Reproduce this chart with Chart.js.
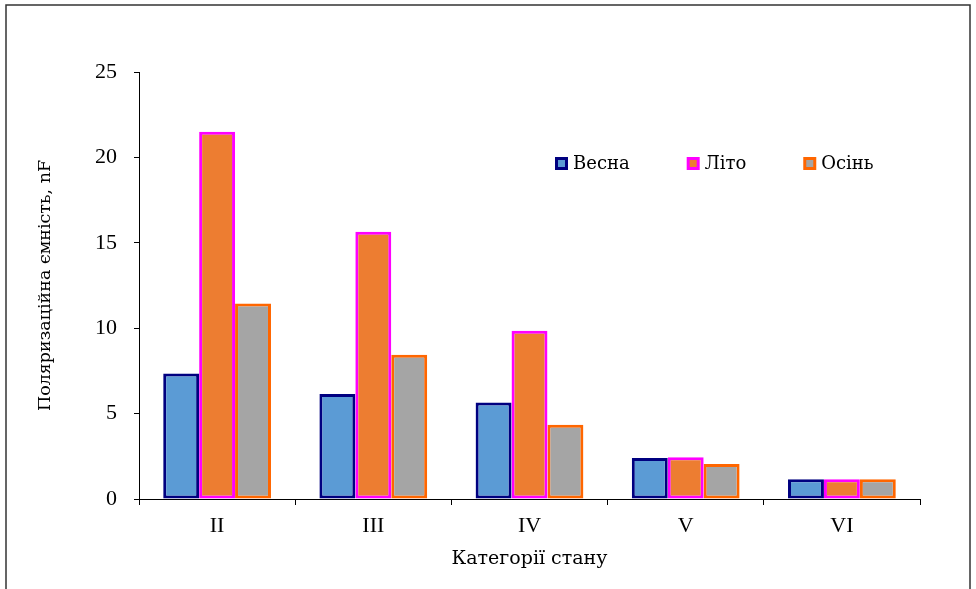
<!DOCTYPE html>
<html lang="uk">
<head>
    <meta charset="UTF-8">
    <title>Поляризаційна ємність</title>
    <script src="https://cdn.jsdelivr.net/npm/chart.js"></script>
    <style>
        body { margin: 0; background: #fff; }
    </style>
</head>
<body>
    <canvas id="grafico" width="976" height="589"></canvas>

<script>
  // Дані
  const categorias = ['II', 'III', 'IV', 'V', 'VI'];
  const vesna = [7.35, 6.15, 5.65, 2.4, 1.15];
  const lito = [21.5, 15.65, 9.85, 2.45, 1.15];
  const osin = [11.45, 8.45, 4.35, 2.05, 1.15];
  const ticksY = [0, 5, 10, 15, 20, 25];

  const fonte = "'Liberation Serif', 'DejaVu Serif', serif";
  const fonteCyr = "'DejaVu Serif', serif";

  // moldura + legenda dentro da área do gráfico
  const extras = {
    id: 'extras',
    beforeDraw(chart) {
      const c = chart.ctx;
      c.save();
      c.strokeStyle = '#333';
      c.lineWidth = 1.5;
      c.strokeRect(6, 5, 964, 600);
      c.restore();
    },
    afterDraw(chart) {
      const c = chart.ctx;
      const area = chart.chartArea;
      c.save();
      c.font = '18px ' + fonteCyr;
      c.textBaseline = 'middle';
      c.fillStyle = '#000';
      let x = area.left + 416;
      const y = 163;
      chart.data.datasets.forEach(ds => {
        c.fillStyle = ds.borderColor;
        c.fillRect(x, y - 6, 13, 13);
        c.fillStyle = ds.backgroundColor;
        c.fillRect(x + 3, y - 3, 7, 7);
        c.fillStyle = '#000';
        c.fillText(ds.label, x + 18, y + 1);
        x += 18 + c.measureText(ds.label).width + 57;
      });
      c.restore();
    }
  };

  new Chart(document.getElementById('grafico'), {
    type: 'bar',
    data: {
      labels: categorias,
      datasets: [
        { label: 'Весна', data: vesna, backgroundColor: '#5b9bd5', borderColor: '#000080' },
        { label: 'Літо', data: lito, backgroundColor: '#ed7d31', borderColor: '#ff00ff' },
        { label: 'Осінь', data: osin, backgroundColor: '#a5a5a5', borderColor: '#ff6600' }
      ]
    },
    options: {
      responsive: false,
      animation: false,
      layout: { padding: { left: 0, top: 72, right: 56, bottom: 0 } },
      datasets: {
        bar: {
          borderWidth: 3,
          borderSkipped: false,
          categoryPercentage: 0.69,
          barPercentage: 1
        }
      },
      scales: {
        x: {
          afterFit(scale) { scale.height = 90; },
          grid: { display: true, drawOnChartArea: false, tickLength: 6, color: '#000', offset: true },
          border: { display: true, color: '#000', width: 1 },
          ticks: { color: '#000', padding: 8, font: { family: fonte, size: 22 } },
          title: {
            display: true,
            text: 'Категорії стану',
            color: '#000',
            font: { family: fonteCyr, size: 19 },
            padding: { top: 0, bottom: 19 }
          }
        },
        y: {
          min: 0,
          max: 25,
          afterFit(scale) { scale.width = 139; },
          afterBuildTicks(scale) { scale.ticks = ticksY.map(v => ({ value: v })); },
          grid: { display: true, drawOnChartArea: false, tickLength: 5, color: '#000' },
          border: { display: true, color: '#000', width: 1 },
          ticks: { color: '#000', padding: 17, font: { family: fonte, size: 22 } },
          title: {
            display: true,
            text: 'Поляризаційна ємність, nF',
            color: '#000',
            font: { family: fonteCyr, size: 17.5 },
            padding: { top: 35, bottom: 0 }
          }
        }
      },
      plugins: {
        legend: { display: false },
        tooltip: { enabled: false }
      }
    },
    plugins: [extras]
  });
</script>
</body>
</html>
